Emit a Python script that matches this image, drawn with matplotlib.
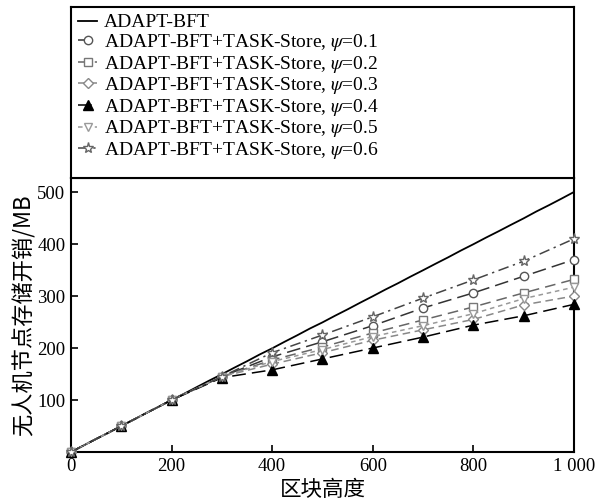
import matplotlib
matplotlib.use("Agg")
import matplotlib.pyplot as plt

plt.rcParams['font.family'] = ['Liberation Serif', 'Noto Sans CJK SC', 'DejaVu Sans']
plt.rcParams['mathtext.fontset'] = 'stix'

# ---- data ----
x_adapt = [0, 25, 50, 75, 100, 125, 150, 175, 200, 225, 250, 275, 300, 325, 350, 375, 400,
           425, 450, 475, 500, 525, 550, 575, 600, 625, 650, 675, 700, 725, 750, 775, 800,
           825, 850, 875, 900, 925, 950, 975, 1000]
y_adapt = [0, 12.5, 25.3, 37.2, 50.1, 62.4, 75.2, 87.3, 100.2, 112.1, 124.8, 137.4, 149.6,
           162.3, 174.6, 187.5, 199.4, 212.2, 224.6, 237.5, 249.3, 262.1, 274.4, 287.2, 299.6,
           312.4, 324.5, 337.3, 349.6, 362.2, 374.5, 387.4, 399.6, 412.3, 424.5, 437.1, 449.4,
           462.5, 474.6, 487.2, 500.1]

x_marks = [0, 100, 200, 300, 400, 500, 600, 700, 800, 900, 1000]
psi01 = [0, 50, 100, 145, 183, 212, 243, 277, 306, 338, 370]
psi02 = [0, 50, 100, 145, 177, 202, 229, 254, 279, 306, 332]
psi03 = [0, 50, 100, 145, 169, 191, 215, 235, 255, 283, 300]
psi04 = [0, 50, 100, 143, 158, 179, 200, 221, 244, 262, 284]
psi05 = [0, 50, 100, 145, 174, 197, 222, 243, 266, 295, 317]
psi06 = [0, 50, 100, 145, 191, 225, 260, 296, 331, 367, 410]

labels = ['ADAPT-BFT'] + ['ADAPT-BFT+TASK-Store, $\\psi$=0.%d' % i for i in range(1, 7)]
xticks = [0, 200, 400, 600, 800, 1000]
xticklabels = ['0', '200', '400', '600', '800', '1 000']
yticks = [100, 200, 300, 400, 500]

fig = plt.figure(figsize=(6.0, 5.01), dpi=100)
ax = fig.add_axes([0.1183, 0.0978, 0.8383, 0.5469])

handles = []
h, = ax.plot(x_adapt, y_adapt, color='black', lw=1.3, label=labels[0])
handles.append(h)

styles = [
    (psi01, 'o', '#333333', '#555555', (0, (9, 4)), 6),
    (psi02, 's', '#666666', '#777777', (0, (7, 4)), 6),
    (psi03, 'D', '#888888', '#888888', (0, (5, 3)), 5),
    (psi04, '^', 'black', 'black', (0, (9, 4)), 7),
    (psi05, 'v', '#999999', '#999999', (0, (3, 2.5)), 6),
    (psi06, '*', '#444444', '#666666', (0, (7, 3, 1.5, 3)), 8),
]
for i, (ys, m, lc, mc, ls, ms) in enumerate(styles):
    face = 'black' if m == '^' else 'white'
    h, = ax.plot(x_marks, ys, color=lc, lw=1.1, linestyle=ls, marker=m, markersize=ms,
                 markerfacecolor=face, markeredgecolor=mc, markeredgewidth=1.0,
                 clip_on=False, zorder=3, label=labels[i + 1])
    handles.append(h)

ax.set_xlim(0, 1000)
ax.set_ylim(0, 527)
ax.set_xticks(xticks)
ax.set_xticklabels(xticklabels)
ax.set_yticks(yticks)
ax.tick_params(direction='in', length=5, width=1.2, labelsize=13.5, pad=4)
for s in ax.spines.values():
    s.set_linewidth(1.5)
ax.set_xlabel('区块高度', fontsize=15.5, labelpad=3, family=['Noto Sans CJK SC', 'DejaVu Sans'])
ax.set_ylabel('无人机节点存储开销/MB', fontsize=16, labelpad=1, family=['Noto Sans CJK SC', 'DejaVu Sans'])

# legend box above the axes
lax = fig.add_axes([0.1183, 0.6447, 0.8383, 0.3413])
lax.set_xticks([])
lax.set_yticks([])
for s in lax.spines.values():
    s.set_linewidth(1.5)
leg = lax.legend(handles=handles, labels=labels, loc='upper left', frameon=False,
                 fontsize=14, handlelength=1.0, handletextpad=0.35, labelspacing=0.03,
                 borderaxespad=0.15, borderpad=0.2)

fig.savefig('out.png', dpi=100)
